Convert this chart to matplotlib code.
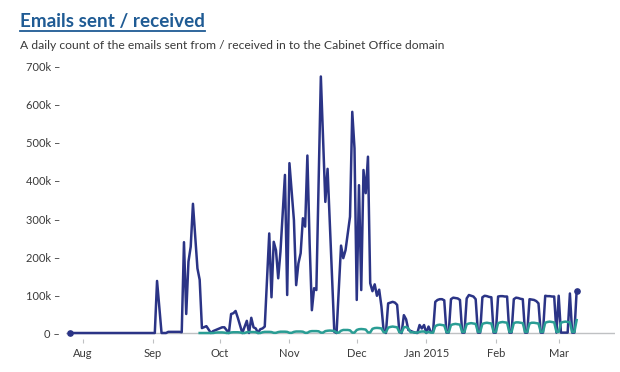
# Emails sent / received - daily counts for the Cabinet Office domain
import matplotlib
matplotlib.use('Agg')
import matplotlib.pyplot as plt
import pandas as pd
from matplotlib.lines import Line2D
from matplotlib.transforms import IdentityTransform

plt.rcParams['font.family'] = ['Lato', 'DejaVu Sans']

title = 'Emails sent / received'
subtitle = 'A daily count of the emails sent from / received in to the Cabinet Office domain'

sent_dates = [
    '2014-07-26', '2014-09-02', '2014-09-03', '2014-09-05', '2014-09-07', '2014-09-08',
    '2014-09-13', '2014-09-14', '2014-09-15', '2014-09-16', '2014-09-17', '2014-09-18',
    '2014-09-19', '2014-09-21', '2014-09-22', '2014-09-23', '2014-09-25', '2014-09-27',
    '2014-09-28', '2014-09-30', '2014-10-02', '2014-10-03', '2014-10-05', '2014-10-06',
    '2014-10-07', '2014-10-08', '2014-10-09', '2014-10-11', '2014-10-13', '2014-10-14',
    '2014-10-15', '2014-10-16', '2014-10-17', '2014-10-18', '2014-10-19', '2014-10-20',
    '2014-10-21', '2014-10-23', '2014-10-24', '2014-10-25', '2014-10-26', '2014-10-27',
    '2014-10-28', '2014-10-30', '2014-10-31', '2014-11-01', '2014-11-03', '2014-11-04',
    '2014-11-05', '2014-11-06', '2014-11-07', '2014-11-08', '2014-11-09', '2014-11-10',
    '2014-11-11', '2014-11-12', '2014-11-13', '2014-11-15', '2014-11-17', '2014-11-18',
    '2014-11-21', '2014-11-22', '2014-11-24', '2014-11-25', '2014-11-26', '2014-11-28',
    '2014-11-29', '2014-11-30', '2014-12-01', '2014-12-02', '2014-12-03', '2014-12-04',
    '2014-12-05', '2014-12-06', '2014-12-07', '2014-12-08', '2014-12-09', '2014-12-10',
    '2014-12-11', '2014-12-12', '2014-12-13', '2014-12-14', '2014-12-15', '2014-12-17',
    '2014-12-18', '2014-12-19', '2014-12-20', '2014-12-21', '2014-12-22', '2014-12-23',
    '2014-12-24', '2014-12-26', '2014-12-27', '2014-12-28', '2014-12-29', '2014-12-30',
    '2014-12-31', '2015-01-01', '2015-01-02', '2015-01-03', '2015-01-04',
]
sent = [
    0, 0, 137, 0, 0, 3,
    3, 2, 239, 50, 188, 227,
    340, 170, 140, 13, 18, 0,
    5, 10, 15, 15, 0, 50,
    52, 58, 40, 0, 32, 0,
    40, 15, 12, 0, 10, 12,
    17, 262, 94, 240, 218, 144,
    214, 416, 100, 447, 297, 126,
    183, 210, 302, 280, 467, 236,
    60, 118, 113, 675, 345, 432,
    3, 0, 230, 197, 218, 306,
    582, 486, 87, 389, 113, 429,
    368, 464, 131, 110, 128, 98,
    114, 70, 5, 0, 78, 82,
    80, 74, 3, 0, 47, 36,
    8, 3, 1, 0, 21, 12,
    21, 0, 17, 3, 2,
]

# Emails sent (thousands), day by day from Monday 5 January (rows are Mon..Sun)
sent_daily_start = '2015-01-05'
sent_daily = [
    82, 87, 89, 89, 86, 1, 1,
    89, 93, 92, 91, 87, 1, 1,
    91, 100, 98, 96, 89, 1, 1,
    94, 98, 97, 95, 94, 1, 1,
    96, 97, 97, 96, 96, 1, 1,
    89, 93, 92, 90, 89, 1, 1,
    89, 88, 87, 84, 78, 1, 1,
    98, 97, 97, 96, 96, 1, 98,
    1, 1, 1, 1, 104, 1, 1,
    110,
]

# Emails received (thousands)
recv_dates = ['2014-09-22', '2014-09-28']
recv = [0, 0]
recv_daily_start = '2014-09-29'
recv_daily = [
    1, 1.5, 1.5, 1.5, 1, 0, 0,
    1.5, 2, 2, 2, 1.5, 0, 0,
    2, 2.5, 2.5, 2.5, 2, 0, 0,
    2, 3, 3, 3, 2.5, 0.5, 0.5,
    2.5, 3.5, 3.5, 3.5, 3, 0.5, 0.5,
    3, 4, 4, 4, 3.5, 0.5, 0.5,
    4, 5, 5, 5, 4.5, 1, 1,
    5, 6, 6.5, 6, 5.5, 1, 1,
    6, 8, 8, 8, 7, 1, 1,
    8, 10, 10.5, 10, 9, 1.5, 1.5,
    11, 13, 13.5, 13, 12, 2, 2,
    14, 16, 17, 16, 15, 2, 2,
    15, 16, 12, 2, 2, 1, 1,
    3, 4, 4, 1, 3, 1, 1,
    18, 21, 22, 21, 20, 2, 2,
    21, 23, 24, 23, 22, 3, 3,
    23, 25, 26, 25, 24, 3, 3,
    24, 26, 27, 26, 25, 3, 3,
    26, 28, 29, 28, 27, 3, 3,
    26, 28, 28, 27, 26, 3, 3,
    25, 27, 27, 26, 25, 3, 3,
    27, 29, 30, 29, 28, 3, 3,
    27, 29, 30, 29, 28, 3, 3,
    34,
]

# Axis ticks
tick_dates = ['2014-08-01', '2014-09-01', '2014-10-01', '2014-11-01',
              '2014-12-01', '2015-01-01', '2015-02-01', '2015-03-01']
tick_labels = ['Aug', 'Sep', 'Oct', 'Nov', 'Dec', 'Jan 2015', 'Feb', 'Mar']
y_ticks = [0, 100, 200, 300, 400, 500, 600, 700]
y_labels = ['0 \u2013', '100k \u2013', '200k \u2013', '300k \u2013',
            '400k \u2013', '500k \u2013', '600k \u2013', '700k \u2013']

navy = '#2b3486'
teal = '#2a9d94'
grey = '#bfc1c3'
text_col = '#3a3a3a'

# Build the series
sent_x = pd.to_datetime(sent_dates).append(pd.date_range(sent_daily_start, periods=len(sent_daily)))
sent_y = [v * 1000 for v in sent + sent_daily]
recv_x = pd.to_datetime(recv_dates).append(pd.date_range(recv_daily_start, periods=len(recv_daily)))
recv_y = [v * 1000 for v in recv + recv_daily]

W, H = 620, 372
fig = plt.figure(figsize=(W / 100, H / 100), dpi=100)
ax = fig.add_axes([66 / W, (H - 337) / H, (615 - 66) / W, (337 - 60) / H])

ax.axhline(0, color=grey, lw=1, zorder=1)
ax.plot(sent_x, sent_y, color=navy, lw=1.8, zorder=3)
ax.plot(recv_x, recv_y, color=teal, lw=1.8, zorder=4)
ax.plot([sent_x[0], sent_x[-1]], [sent_y[0], sent_y[-1]], 'o', color=navy, ms=3.8, zorder=5)

aug1 = pd.Timestamp('2014-08-01')
ax.set_xlim(aug1 - pd.Timedelta(days=7.58), aug1 + pd.Timedelta(days=237.1))
ax.set_ylim(-10500, 718400)

ax.set_xticks(pd.to_datetime(tick_dates))
ax.set_xticklabels(tick_labels)
ax.set_yticks([v * 1000 for v in y_ticks])
ax.set_yticklabels(y_labels)

for s in ax.spines.values():
    s.set_visible(False)
ax.spines['bottom'].set_position(('outward', 1.5))
ax.tick_params(axis='x', length=3, width=0.8, color=grey, pad=3.2,
               labelsize=8, labelcolor=text_col)
ax.tick_params(axis='y', length=0, pad=4.3, labelsize=8, labelcolor=text_col)

# Title (underlined, like a link) and subtitle
t = fig.text(20 / W, (H - 27) / H, title, fontsize=13.6, fontweight='bold',
             color='#1f5b94', va='baseline')
fig.text(20 / W, (H - 49) / H, subtitle, fontsize=8.77, color=text_col, va='baseline')

fig.canvas.draw()
bb = t.get_window_extent()
fig.add_artist(Line2D([bb.x0, bb.x1], [H - 30.5, H - 30.5], transform=IdentityTransform(),
                      color='#1f5b94', lw=1.3))

fig.savefig('out.png', dpi=100)
